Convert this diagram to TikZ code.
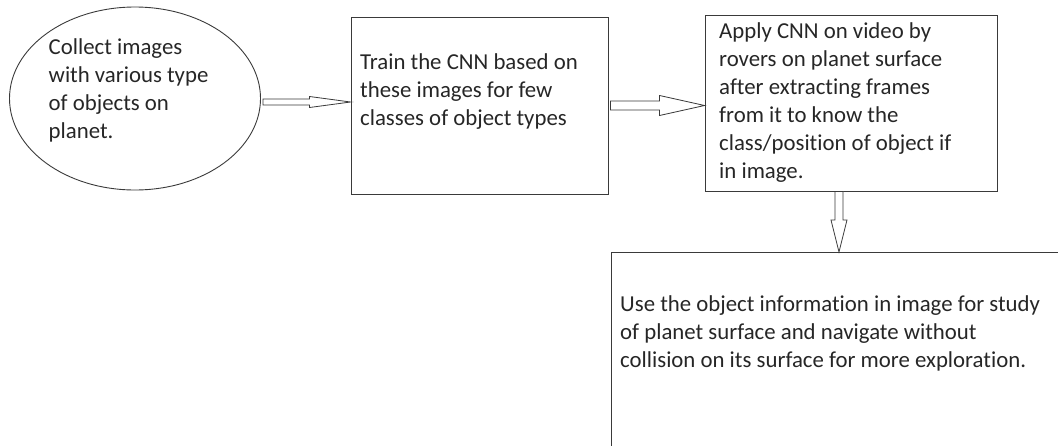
\documentclass[tikz,border=0pt]{standalone}
\usepackage{fontspec}
\setmainfont{Carlito}[Ligatures={NoCommon}]
\usetikzlibrary{shapes.geometric,calc}

\definecolor{inkline}{HTML}{3A3A3A}
\definecolor{inktext}{HTML}{262626}

% horizontal block arrow: #1 tail, #2 tip, #3 shaft half-height, #4 head half-height, #5 head length
\newcommand{\hblockarrow}[5]{%
  \draw[blockarrow] let \p1=#1, \p2=#2 in
    (\x1,\y2+#3) -- (\x2-#5,\y2+#3) -- (\x2-#5,\y2+#4) -- (\x2,\y2)
    -- (\x2-#5,\y2-#4) -- (\x2-#5,\y2-#3) -- (\x1,\y2-#3) -- cycle;}
% vertical block arrow pointing down: #1 tail, #2 tip, #3 shaft half-width, #4 head half-width, #5 head length
\newcommand{\vblockarrow}[5]{%
  \draw[blockarrow] let \p1=#1, \p2=#2 in
    (\x2-#3,\y1) -- (\x2-#3,\y2+#5) -- (\x2-#4,\y2+#5) -- (\x2,\y2)
    -- (\x2+#4,\y2+#5) -- (\x2+#3,\y2+#5) -- (\x2+#3,\y1) -- cycle;}

\begin{document}
\begin{tikzpicture}[x=1pt,y=-1pt,
  shapeline/.style={draw=inkline, line width=0.9pt, inner sep=0pt},
  stepbox/.style={shapeline, rectangle},
  blockarrow/.style={draw=inkline, line width=0.8pt, fill=white, line join=miter},
  % texts are placed by the baseline of their last line
  txt/.style={anchor=base west, align=left, inner sep=0pt, text=inktext,
              font=\fontsize{22.8}{28}\selectfont}]
  \useasboundingbox (0,0) rectangle (1058,445);
  \clip (0,0) rectangle (1058,445);

  % process shapes
  \node[shapeline, ellipse, minimum width=251pt, minimum height=183pt] (collect) at (135,98.5) {};
  \node[stepbox, minimum width=257pt, minimum height=177pt] (train) at (479.5,105.5) {};
  \node[stepbox, minimum width=292pt, minimum height=176pt] (apply) at (851,103) {};
  \node[stepbox, minimum width=470pt, minimum height=260pt, anchor=north west] (use) at (611,252) {};

  % texts
  \node[txt] (tcollect) at (48.5,138) {Collect images\\with various type\\of objects on\\planet.};
  \node[txt] (ttrain) at (360,125) {Train the CNN based on\\these images for few\\classes of object types};
  \node[txt] (tapply) at (719,178.5) {Apply CNN on video by\\rovers on planet surface\\after extracting frames\\from it to know the\\class/position of object if\\in image.};
  \node[txt] (tuse) at (620,367) {Use the object information in image for study\\of planet surface and navigate without\\collision on its surface for more exploration.};

  % connectors
  \coordinate (a1s) at ($(collect.east)+(2,3.5)$);
  \coordinate (a1t) at ($(train.west)+(0,-3.5)$);
  \hblockarrow{(a1s)}{(a1t)}{3pt}{5.5pt}{41pt}

  \coordinate (a2s) at ($(train.east)+(2,0)$);
  \coordinate (a2t) at (apply.west |- a2s);
  \hblockarrow{(a2s)}{(a2t)}{4.5pt}{10pt}{45pt}

  \coordinate (a3s) at ($(apply.south)+(-12,0)$);
  \coordinate (a3t) at (a3s |- use.north);
  \vblockarrow{(a3s)}{(a3t)}{4pt}{8pt}{32pt}
\end{tikzpicture}
\end{document}
